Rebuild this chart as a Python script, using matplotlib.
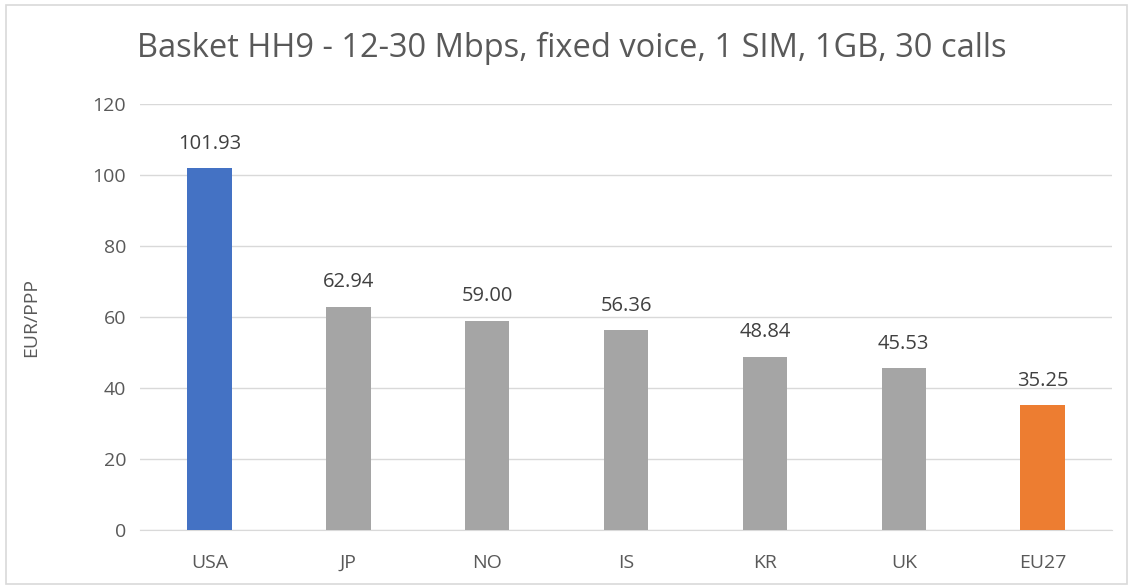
import matplotlib
matplotlib.use("Agg")
import matplotlib.pyplot as plt
import matplotlib.patches as patches

# datos
paises = ["USA", "JP", "NO", "IS", "KR", "UK", "EU27"]
valores = [101.93, 62.94, 59.00, 56.36, 48.84, 45.53, 35.25]
colores = ["#4472C4", "#A5A5A5", "#A5A5A5", "#A5A5A5", "#A5A5A5", "#A5A5A5", "#ED7D31"]
ticks_y = [0, 20, 40, 60, 80, 100, 120]

TEXTO = "#595959"
plt.rcParams['font.family'] = ['Open Sans', 'DejaVu Sans']

fig = plt.figure(figsize=(11.33, 5.87), dpi=100)
ax = fig.add_axes([0.1236, 0.0971, 0.8579, 0.7257])

x = range(len(paises))
barras = ax.bar(x, valores, width=0.32, color=colores, zorder=3)

for xi, v in zip(x, valores):
    ax.text(xi, v + 4, f"{v:.2f}", ha="center", va="bottom", fontsize=14.5, color="#404040")

ax.set_xlim(-0.5, len(paises) - 0.5)
ax.set_ylim(0, 120)
ax.set_yticks(ticks_y)
ax.set_xticks(list(x))
ax.set_xticklabels(paises)
ax.tick_params(axis="both", length=0, labelsize=14, colors=TEXTO, pad=10)
ax.tick_params(axis="x", pad=17)
ax.grid(axis="y", color="#D9D9D9", linewidth=1, zorder=0)
for lado in ["top", "right", "left"]:
    ax.spines[lado].set_visible(False)
ax.spines["bottom"].set_color("#D9D9D9")
ax.set_ylabel("EUR/PPP", fontsize=14, color=TEXTO, labelpad=38)

fig.text(0.505, 0.918, "Basket HH9 - 12-30 Mbps, fixed voice, 1 SIM, 1GB, 30 calls",
         ha="center", va="center", fontsize=23.5, color=TEXTO)

# marco gris alrededor
marco = patches.Rectangle((6 / 1133, 3 / 587), 1121 / 1133, 579 / 587, transform=fig.transFigure,
                          fill=False, edgecolor="#D9D9D9", linewidth=1.2)
fig.patches.append(marco)

fig.savefig("out.png", dpi=100)
